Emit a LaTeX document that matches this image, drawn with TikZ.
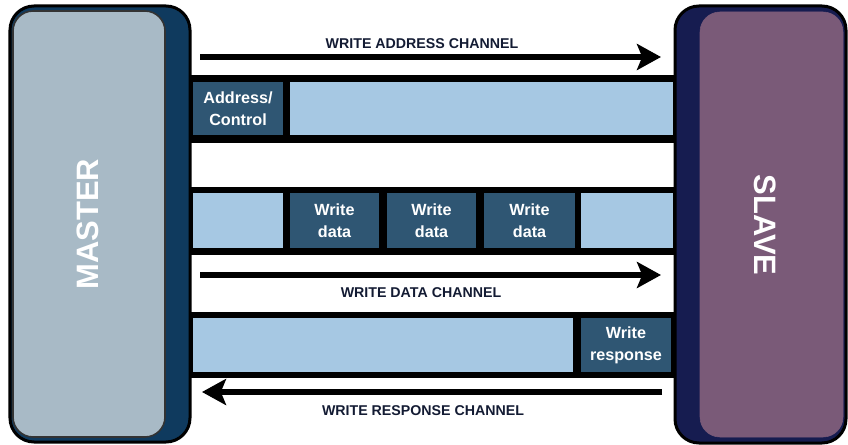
\documentclass[tikz,border=0pt]{standalone}
\usepackage{fontspec}
\setmainfont{Liberation Sans}
\usetikzlibrary{arrows.meta}
\definecolor{masterdark}{HTML}{0F3A5E}
\definecolor{mastergray}{HTML}{A8BAC6}
\definecolor{slavedark}{HTML}{161C50}
\definecolor{slavepurple}{HTML}{7A5A78}
\definecolor{lane}{HTML}{A6C8E3}
\definecolor{packet}{HTML}{2F5673}
\definecolor{labelink}{HTML}{131B33}
\begin{document}
\begin{tikzpicture}
	[x=0.025cm, y=-0.025cm,
	band/.style={fill=black},
	gap/.style={rectangle,inner sep=0,fill=lane,minimum height=#1},
	packetbox/.style={rectangle,inner sep=0,fill=packet,text=white,align=center,
		font=\bfseries\fontsize{11.5}{15.5}\selectfont,minimum height=#1},
	chan/.style={line width=0.15cm,-{Stealth[length=0.6cm,width=0.65cm,inset=0.13cm]}},
	chanlabel/.style={inner sep=0,text=labelink,font=\bfseries\fontsize{10.1}{12}\selectfont},
	blocklabel/.style={inner sep=0,text=white,font=\bfseries\fontsize{22}{26}\selectfont}]
	\useasboundingbox (0,0) rectangle (848,445);
	% the three channel bands
	\fill [band] (190,75) rectangle (675,143);
	\fill [band] (190,187) rectangle (675,255);
	\fill [band] (190,312) rectangle (675,378);
	% write address
	\node (addr) at (238,108.5) [packetbox=1.325cm, minimum width=2.25cm] {Address/\\Control};
	\node (abar) at (481.5,108.5) [gap=1.325cm, minimum width=9.575cm] {};
	% write data
	\node (d0) at (238,220.5) [gap=1.375cm, minimum width=2.25cm] {};
	\node (wd1) at (334.5,220.5) [packetbox=1.375cm, minimum width=2.225cm] {Write\\data};
	\node (wd2) at (431.5,220.5) [packetbox=1.375cm, minimum width=2.225cm] {Write\\data};
	\node (wd3) at (529.5,220.5) [packetbox=1.375cm, minimum width=2.275cm] {Write\\data};
	\node (d4) at (627,220.5) [gap=1.375cm, minimum width=2.3cm] {};
	% write response
	\node (rbar) at (383,345) [gap=1.35cm, minimum width=9.5cm] {};
	\node (resp) at (626,345) [packetbox=1.35cm, minimum width=2.25cm] {Write\\response};
	% master and slave
	\draw [line width=0.075cm, fill=masterdark, rounded corners=0.6cm] (10,6) rectangle (190,442);
	\draw [line width=0.04cm, draw=black!80, fill=mastergray, rounded corners=0.5cm] (13,11) rectangle (165,437);
	\node (master) at (88,224) [blocklabel, rotate=90] {MASTER};
	\draw [line width=0.075cm, fill=slavedark, rounded corners=0.6cm] (675,6) rectangle (846,443);
	\draw [draw=slavepurple, fill=slavepurple, rounded corners=0.5cm] (700,12) rectangle (843,437);
	\node (slave) at (765,225) [blocklabel, rotate=-90] {SLAVE};
	% channel arrows
	\coordinate (wa0) at (200,57);
	\coordinate (wa1) at (661,57);
	\coordinate (wd0) at (200,275);
	\coordinate (wdend) at (661,275);
	\coordinate (wr0) at (662,392);
	\coordinate (wr1) at (202,392);
	\draw [chan] (wa0) -- (wa1);
	\draw [chan] (wd0) -- (wdend);
	\draw [chan] (wr0) -- (wr1);
	\node (walbl) at (422,44) [chanlabel] {WRITE ADDRESS CHANNEL};
	\node (wdlbl) at (421,293) [chanlabel] {WRITE DATA CHANNEL};
	\node (wrlbl) at (423,411) [chanlabel] {WRITE RESPONSE CHANNEL};
\end{tikzpicture}
\end{document}
